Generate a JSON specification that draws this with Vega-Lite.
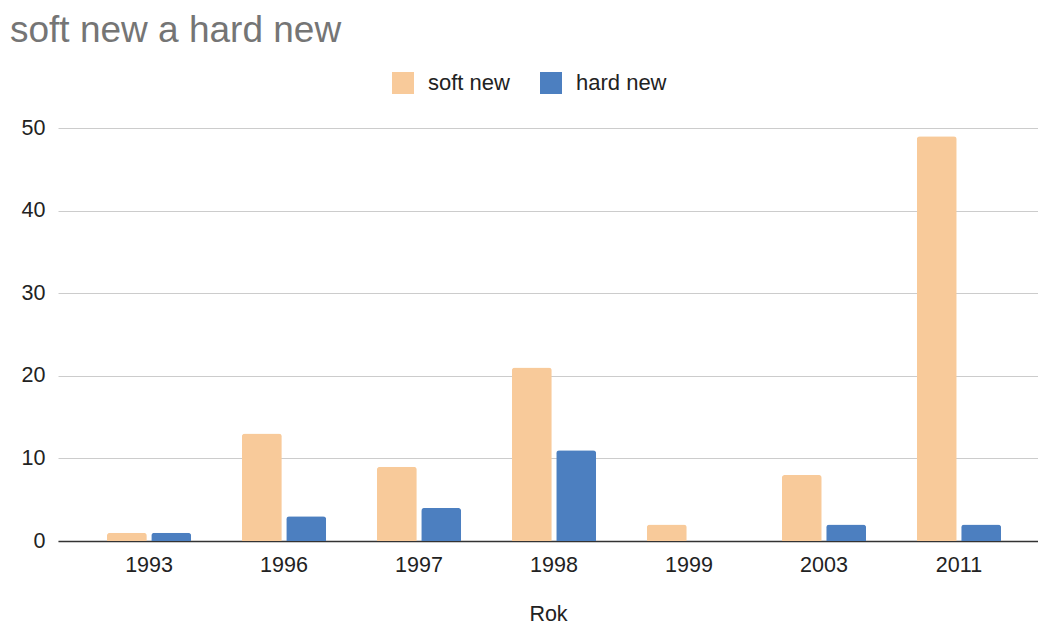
{
  "$schema": "https://vega.github.io/schema/vega-lite/v6.json",
  "width": 980,
  "height": 413,
  "autosize": "none",
  "padding": {"left": 58, "top": 128, "right": 0, "bottom": 87},
  "background": "white",
  "title": {
    "text": "soft new a hard new",
    "anchor": "start",
    "frame": "group",
    "font": "Liberation Sans",
    "fontSize": 37,
    "fontWeight": "normal",
    "color": "#757575",
    "baseline": "alphabetic",
    "dx": -48,
    "dy": 7,
    "offset": 0
  },
  "config": {
    "view": {"stroke": null},
    "axis": {
      "labelFont": "Liberation Sans",
      "labelFontSize": 21.5,
      "labelColor": "#222222",
      "titleFont": "Liberation Sans",
      "titleFontSize": 21.5,
      "titleFontWeight": "normal",
      "titleColor": "#222222"
    },
    "legend": {
      "labelFont": "Liberation Sans",
      "labelFontSize": 22,
      "labelColor": "#222222"
    }
  },
  "data": {
    "values": [
      {"Rok": "1993", "series": "soft new", "value": 1},
      {"Rok": "1993", "series": "hard new", "value": 1},
      {"Rok": "1996", "series": "soft new", "value": 13},
      {"Rok": "1996", "series": "hard new", "value": 3},
      {"Rok": "1997", "series": "soft new", "value": 9},
      {"Rok": "1997", "series": "hard new", "value": 4},
      {"Rok": "1998", "series": "soft new", "value": 21},
      {"Rok": "1998", "series": "hard new", "value": 11},
      {"Rok": "1999", "series": "soft new", "value": 2},
      {"Rok": "1999", "series": "hard new", "value": 0},
      {"Rok": "2003", "series": "soft new", "value": 8},
      {"Rok": "2003", "series": "hard new", "value": 2},
      {"Rok": "2011", "series": "soft new", "value": 49},
      {"Rok": "2011", "series": "hard new", "value": 2}
    ]
  },
  "mark": {"type": "bar", "cornerRadiusTopLeft": 3, "cornerRadiusTopRight": 3},
  "encoding": {
    "x": {
      "field": "Rok",
      "type": "nominal",
      "scale": {"paddingInner": 0.376, "paddingOuter": 0.318, "align": 0.57},
      "axis": {
        "title": "Rok",
        "labelAngle": 0,
        "ticks": false,
        "domainColor": "#333333",
        "domainWidth": 1.5,
        "grid": false,
        "labelPadding": 13,
        "titlePadding": 28
      }
    },
    "xOffset": {
      "field": "series",
      "type": "nominal",
      "sort": ["soft new", "hard new"],
      "scale": {"paddingInner": 0.1, "paddingOuter": 0}
    },
    "y": {
      "field": "value",
      "type": "quantitative",
      "scale": {"domain": [0, 50], "nice": false},
      "axis": {
        "title": null,
        "values": [0, 10, 20, 30, 40, 50],
        "ticks": false,
        "domain": false,
        "gridColor": "#cccccc",
        "labelPadding": 13
      }
    },
    "color": {
      "field": "series",
      "type": "nominal",
      "sort": ["soft new", "hard new"],
      "scale": {"domain": ["soft new", "hard new"], "range": ["#f8ca9a", "#4c7fc0"]},
      "legend": {
        "title": null,
        "orient": "none",
        "legendX": 334,
        "legendY": -56,
        "direction": "horizontal",
        "symbolType": "square",
        "symbolSize": 484,
        "symbolStrokeWidth": 0,
        "labelOffset": 14,
        "columnPadding": 30
      }
    }
  }
}
